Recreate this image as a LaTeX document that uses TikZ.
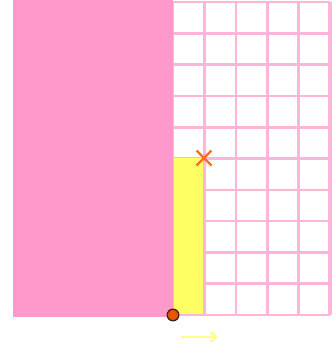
\documentclass[tikz,border=0pt]{standalone}
\usetikzlibrary{arrows.meta,calc}
\definecolor{pinkfill}{RGB}{255,153,204}
\definecolor{gridpink}{RGB}{255,180,218}
\definecolor{yel}{RGB}{255,255,100}
\definecolor{arrowyel}{RGB}{255,255,130}
\definecolor{xorange}{RGB}{255,110,30}
\definecolor{dotorange}{RGB}{230,85,0}
\tikzset{
  gridline/.style={draw=gridpink, line width=2.6pt},
  xmark/.style={draw=xorange, line width=2.4pt},
}
\begin{document}
\begin{tikzpicture}[x=1pt,y=-1pt]
\useasboundingbox (0,0) rectangle (334,351);
\fill[white] (0,0) rectangle (334,351);
% grid
\foreach \i in {0,...,5} {
  \draw[gridline] ({173+31.4*\i},2) -- ({173+31.4*\i},315);
}
\foreach \j in {0,...,10} {
  \draw[gridline] (173,{2+31.3*\j}) -- (330,{2+31.3*\j});
}
\draw[draw=gridpink, line width=3.4pt] (330,2) -- (330,315);
% pink region
\fill[pinkfill] (13,0) rectangle (173,317);
% yellow strip
\fill[yel] (174,158) rectangle (203,314);
% X mark
\coordinate (xm) at (204,158);
\draw[xmark] ($(xm)+(-7.5,-7.5)$) -- ($(xm)+(7.5,7.5)$);
\draw[xmark] ($(xm)+(-7.5,7.5)$) -- ($(xm)+(7.5,-7.5)$);
% dot
\coordinate (dot) at (173,315);
\fill[dotorange, draw=black!70!brown, line width=1.3pt] (dot) circle (5.8);
% arrow
\coordinate (a1) at (181,337);
\coordinate (a2) at (218,337);
\draw[arrowyel, line width=2pt, -{Straight Barb[length=6pt,width=10pt]}] (a1) -- (a2);
\end{tikzpicture}
\end{document}
